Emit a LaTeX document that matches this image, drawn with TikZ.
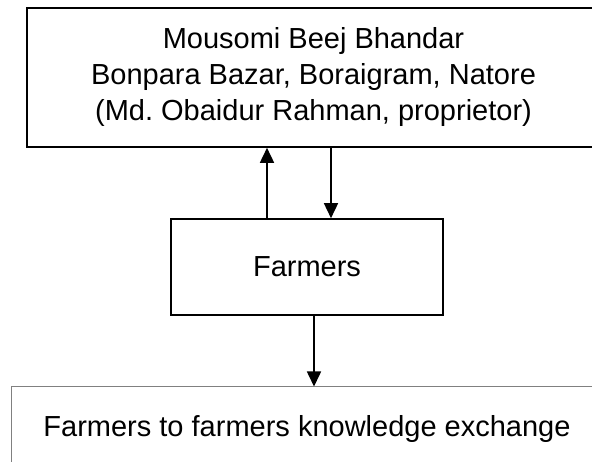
\documentclass[tikz,border=0pt]{standalone}
\usepackage{fontspec}
\setmainfont{Liberation Sans}
\usetikzlibrary{arrows.meta}
\frenchspacing
\begin{document}
\begin{tikzpicture}[x=1pt,y=1pt,
  boxstyle/.style={draw=black,line width=1.6pt,inner sep=0pt,align=center,
    font=\fontsize{29}{36}\selectfont},
  greybox/.style={draw=gray,line width=1pt,inner sep=0pt,align=center,
    font=\fontsize{29}{36}\selectfont},
  arr/.style={line width=1.6pt,-{Triangle[length=15pt,width=14pt]}}]
\useasboundingbox (0,0) rectangle (592,-462);
\node[boxstyle,minimum width=573pt,minimum height=139pt] (top) at (313.5,-77.5)
  {Mousomi Beej Bhandar\\Bonpara Bazar, Boraigram, Natore\\(Md. Obaidur Rahman, proprietor)};
\node[boxstyle,minimum width=272pt,minimum height=96pt] (farm) at (307,-267) {Farmers};
\node[greybox,minimum width=592pt,minimum height=84pt] (ex) at (307,-429)
  {Farmers to farmers knowledge exchange};
\coordinate (u) at (267,0);
\coordinate (d) at (331,0);
\coordinate (b) at (314,0);
\draw[arr] (farm.north -| u) -- (top.south -| u);
\draw[arr] (top.south -| d) -- (farm.north -| d);
\draw[arr] (farm.south -| b) -- (ex.north -| b);
\end{tikzpicture}
\end{document}
